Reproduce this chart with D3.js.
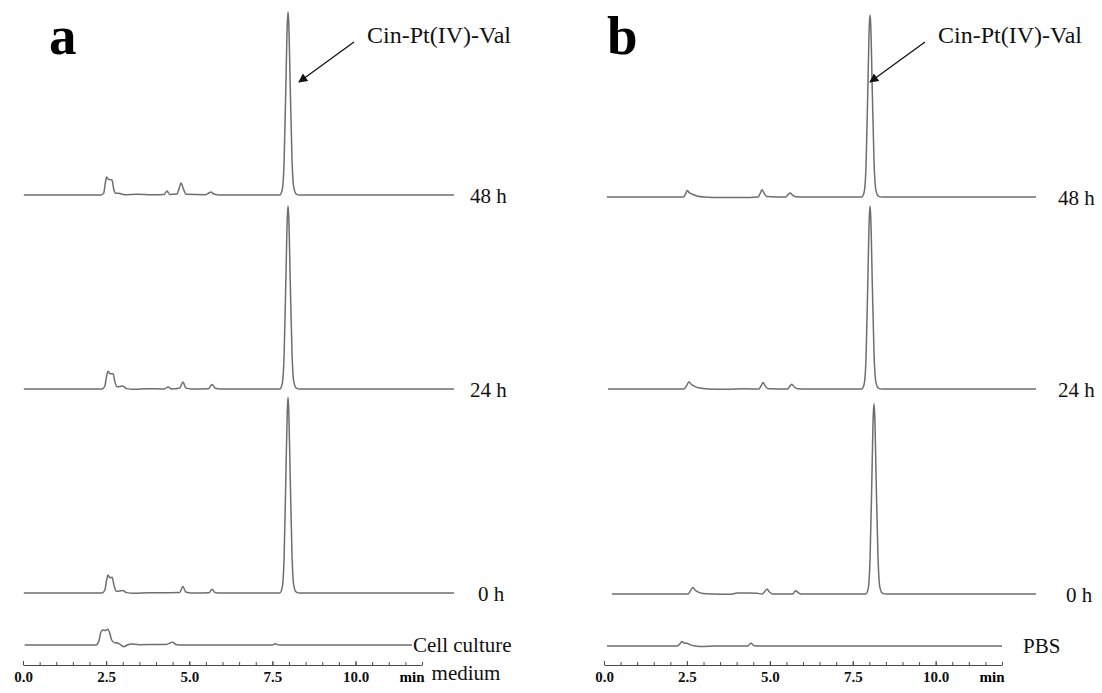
<!DOCTYPE html>
<html>
<head>
<meta charset="utf-8">
<script src="https://cdn.jsdelivr.net/npm/d3@7"></script>
<style>
  body { margin: 0; background: #fff; }
  .trace { fill: none; stroke: #6e6e6e; stroke-width: 1.5; }
  .axis path, .axis line { stroke: #4a4a4a; }
  .axis text { font-family: "Liberation Serif", serif; font-weight: bold; font-size: 15px; fill: #111; }
  .lbl { font-family: "Liberation Serif", serif; fill: #111; }
</style>
</head>
<body>
<script>
// Chromatograms, [time (min), signal] (signal: 100 = main peak of 48 h)
var a48 = [[0.05,0],[2.2,0],[2.27,1],[2.31,6],[2.35,9.8],[2.4,8.5],[2.45,8.4],[2.5,8.2],[2.55,3],[2.6,1],[2.72,0.8],[2.85,0.2],[3.2,0.4],[3.6,0.1],[3.95,0.3],[4.03,2.2],[4.1,0.3],[4.3,0.5],[4.37,4],[4.42,6.6],[4.48,3.5],[4.56,0.4],[5.1,0.2],[5.2,1.2],[5.25,1.6],[5.33,0.5],[5.5,0],[7.16,0],[7.23,3],[7.28,18],[7.33,60],[7.37,94],[7.39,100],[7.41,94],[7.45,60],[7.5,20],[7.55,4],[7.62,0.5],[7.72,0],[12,0]];
var a24 = [[0.05,0],[2.22,0],[2.3,1.5],[2.35,7],[2.39,9.7],[2.45,8.3],[2.53,8.4],[2.58,4],[2.64,1.2],[2.8,1.6],[2.9,0.2],[3.1,-0.2],[3.5,0.2],[3.95,0],[4.06,1.1],[4.15,0],[4.38,0.5],[4.47,3.8],[4.55,0.6],[4.7,0],[5.18,0.2],[5.28,2.4],[5.37,0.4],[5.5,0],[7.16,0],[7.23,3],[7.28,18],[7.33,60],[7.37,94],[7.39,100],[7.41,94],[7.45,60],[7.5,20],[7.55,4],[7.62,0.5],[7.72,0],[12,0]];
var a0 = [[0.05,0],[2.22,0],[2.3,1.5],[2.35,7],[2.39,9.8],[2.44,8.4],[2.5,8.6],[2.56,4],[2.62,1],[2.8,1.3],[2.9,0.2],[3.1,-0.2],[3.5,0.1],[4.38,0.3],[4.47,3.5],[4.55,0.5],[4.7,0],[5.2,0.2],[5.28,2],[5.36,0.3],[5.5,0],[7.16,0],[7.23,3.2],[7.28,19],[7.33,64],[7.37,100],[7.39,107],[7.41,100],[7.45,64],[7.5,21],[7.55,4],[7.62,0.5],[7.72,0],[12,0]];
var aMedium = [[0.05,0],[2.2,0],[2.28,2],[2.34,7],[2.4,8.2],[2.48,7.9],[2.55,8.6],[2.6,7],[2.66,3],[2.74,1.3],[2.82,1.2],[2.92,0.3],[3.03,-0.9],[3.14,0],[3.24,0.5],[3.5,0.2],[4.3,0.3],[4.5,1.5],[4.6,0.3],[4.8,0],[7.5,0],[7.59,0.7],[7.7,0],[11.7,0]];

var b48 = [[0.08,0],[2.2,0],[2.26,1.5],[2.31,3.6],[2.36,2.5],[2.45,1.5],[2.58,0.6],[2.8,0],[3.2,-0.3],[3.8,-0.3],[4.28,0],[4.34,2],[4.39,4],[4.45,2],[4.52,0.3],[5.05,0],[5.12,1.5],[5.17,2.2],[5.23,1.2],[5.32,0.2],[5.6,0],[7.16,0],[7.23,3],[7.28,18],[7.33,60],[7.37,94],[7.39,99.5],[7.41,94],[7.45,60],[7.5,20],[7.55,4],[7.62,0.5],[7.72,0],[12,0]];
var b24 = [[0.11,0],[2.22,0],[2.3,2],[2.36,4],[2.42,2.6],[2.52,1.4],[2.65,0.5],[2.9,0],[3.4,-0.2],[3.9,0.1],[4.3,0],[4.37,2],[4.42,3.5],[4.48,1.6],[4.56,0.2],[5.1,0],[5.17,1.8],[5.22,2.6],[5.28,1.2],[5.38,0.1],[5.6,0],[7.16,0],[7.23,3],[7.28,18],[7.33,60],[7.37,94],[7.39,100],[7.41,94],[7.45,60],[7.5,20],[7.55,4],[7.62,0.5],[7.72,0],[12,0]];
var b0 = [[0.22,0],[2.33,0],[2.41,2],[2.47,3.6],[2.53,2.2],[2.62,1],[2.75,0.3],[3.0,0],[3.5,-0.2],[3.7,0.5],[4.0,0.6],[4.25,0.4],[4.4,0],[4.47,1.5],[4.53,2.7],[4.59,1.2],[4.68,0],[5.24,0],[5.29,1.2],[5.33,1.8],[5.39,0.8],[5.5,0],[7.27,0],[7.34,3.1],[7.39,19],[7.44,62],[7.48,98],[7.5,104],[7.52,98],[7.56,62],[7.61,21],[7.66,4],[7.73,0.5],[7.83,0],[12,0]];
var bPBS = [[0.09,0],[2.2,0],[2.28,1],[2.35,2.4],[2.42,1.6],[2.5,1.5],[2.6,0.6],[2.75,0],[2.98,-0.3],[3.3,0],[4.33,0],[4.43,1.5],[4.53,0.2],[4.7,0],[12,0]];

var timeTicks = [0, 2.5, 5, 7.5, 10];
var sampleNamesA = ["48 h", "24 h", "0 h"];
var sampleNamesB = ["48 h", "24 h", "0 h"];
var compoundName = "Cin-Pt(IV)-Val";

(function() {
  var width = 1102, height = 693;
  var svg = d3.select("body").append("svg")
      .attr("width", width)
      .attr("height", height);

  var marker = svg.append("defs").append("marker")
      .attr("id", "arrow")
      .attr("viewBox", "0 0 10 10")
      .attr("refX", 9).attr("refY", 5)
      .attr("markerWidth", 11).attr("markerHeight", 9)
      .attr("markerUnits", "userSpaceOnUse")
      .attr("orient", "auto");
  marker.append("path").attr("d", "M0,0 L10,5 L0,10 Z").attr("fill", "#111");

  // signal -> pixels above baseline
  var yScale = d3.scaleLinear().domain([0, 100]).range([0, 183]);

  // panel settings
  var panels = [
    {
      letter: "a", letterX: 49,
      traceRange: [22, 454], axisRange: [23, 422],
      traces: [a48, a24, a0], baselines: [195, 389, 593], names: sampleNamesA, nameX: 470,
      bottom: aMedium, bottomBase: 645,
      arrow: [[354, 42], [299, 82]], compX: 367
    },
    {
      letter: "b", letterX: 607,
      traceRange: [604, 1036], axisRange: [604, 1002],
      traces: [b48, b24, b0], baselines: [197, 389, 594], names: sampleNamesB, nameX: 1058,
      bottom: bPBS, bottomBase: 646,
      arrow: [[925, 42], [870, 82]], compX: 938
    }
  ];

  panels.forEach(function(p) {
    var xTrace = d3.scaleLinear().domain([0, 12]).range(p.traceRange);
    var xAxis = d3.scaleLinear().domain([0, 12]).range(p.axisRange);

    // stacked traces
    p.traces.forEach(function(data, i) {
      var base = p.baselines[i];
      var line = d3.line()
          .x(function(d) { return xTrace(d[0]); })
          .y(function(d) { return base - yScale(d[1]); })
          .curve(d3.curveMonotoneX);
      svg.append("path")
          .datum(data)
          .attr("class", "trace")
          .attr("d", line);
      svg.append("text")
          .attr("class", "lbl")
          .attr("x", p.nameX + (p.names[i] === "0 h" ? 8 : 0))
          .attr("y", base + 8)
          .style("font-size", "21px")
          .text(p.names[i]);
    });

    // blank / medium trace, on axis time scale
    var lineB = d3.line()
        .x(function(d) { return xAxis(d[0]); })
        .y(function(d) { return p.bottomBase - yScale(d[1]); })
        .curve(d3.curveMonotoneX);
    svg.append("path")
        .datum(p.bottom)
        .attr("class", "trace")
        .attr("d", lineB);

    // time axis, ticks pointing up
    var axisY = 665;
    svg.append("g")
        .attr("class", "axis")
        .attr("transform", "translate(0," + axisY + ")")
        .call(d3.axisBottom(xAxis)
          .tickValues(d3.range(0, 12.01, 0.5))
          .tickSizeInner(-3)
          .tickSizeOuter(0)
          .tickFormat(""))
        .call(function(g) { g.selectAll(".tick text").remove(); });
    svg.append("g")
        .attr("class", "axis")
        .attr("transform", "translate(0," + axisY + ")")
        .call(d3.axisBottom(xAxis)
          .tickValues(timeTicks)
          .tickSizeInner(-4)
          .tickSizeOuter(0)
          .tickPadding(6)
          .tickFormat(d3.format(".1f")))
        .call(function(g) { g.select(".domain").remove(); });
    svg.append("text")
        .attr("x", p.axisRange[1] - 10)
        .attr("y", axisY + 17)
        .attr("text-anchor", "middle")
        .style("font-family", "Liberation Serif, serif")
        .style("font-weight", "bold")
        .style("font-size", "15px")
        .text("min");

    // panel letter
    svg.append("text")
        .attr("x", p.letterX)
        .attr("y", 54)
        .style("font-family", "Liberation Serif, serif")
        .style("font-weight", "bold")
        .style("font-size", "55px")
        .text(p.letter);

    // compound label + arrow
    svg.append("text")
        .attr("class", "lbl")
        .attr("x", p.compX)
        .attr("y", 43)
        .style("font-size", "24px")
        .text(compoundName);
    svg.append("line")
        .attr("x1", p.arrow[0][0]).attr("y1", p.arrow[0][1])
        .attr("x2", p.arrow[1][0]).attr("y2", p.arrow[1][1])
        .attr("stroke", "#111")
        .attr("stroke-width", 1.3)
        .attr("marker-end", "url(#arrow)");
  });

  // bottom trace labels
  svg.append("text").attr("class", "lbl")
      .attr("x", 413).attr("y", 652)
      .style("font-size", "21px")
      .text("Cell culture");
  svg.append("text").attr("class", "lbl")
      .attr("x", 466).attr("y", 680)
      .attr("text-anchor", "middle")
      .style("font-size", "21px")
      .text("medium");
  svg.append("text").attr("class", "lbl")
      .attr("x", 1023).attr("y", 653)
      .style("font-size", "21px")
      .text("PBS");
})();
</script>
</body>
</html>
